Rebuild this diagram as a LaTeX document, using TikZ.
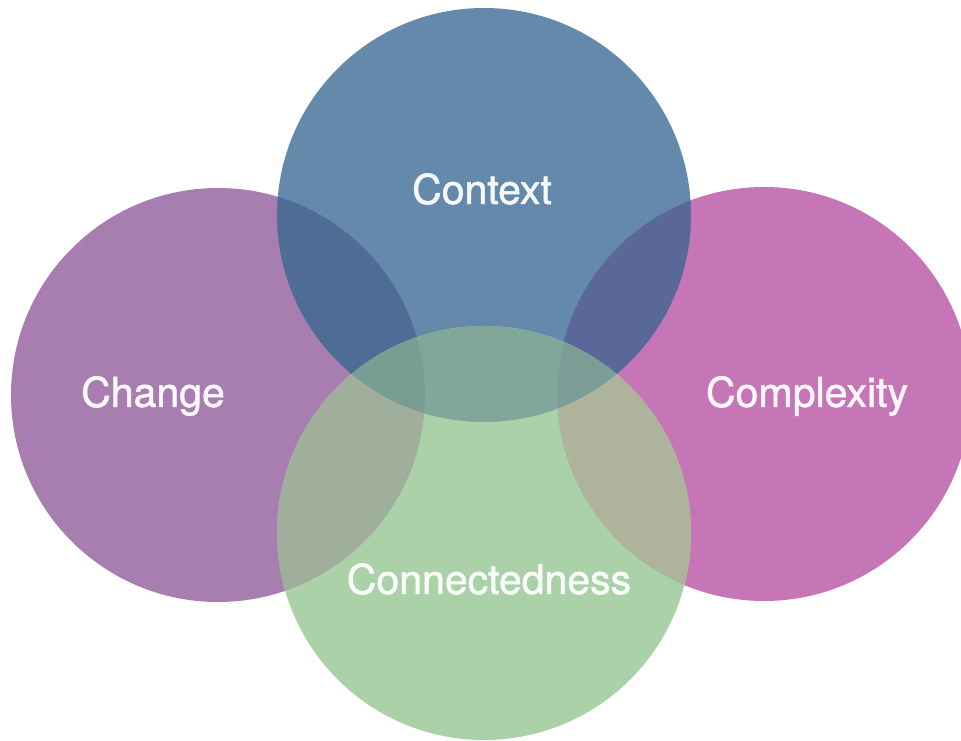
\documentclass[tikz,border=0pt]{standalone}
\usepackage{fontspec}
\setmainfont{TeX Gyre Heros}
\newfontfamily\lblfont[FakeBold=1.3]{TeX Gyre Heros}
\definecolor{cChange}{HTML}{A87DB0}
\definecolor{cComplex}{HTML}{C676B6}
\definecolor{cContext}{HTML}{6489AB}
\definecolor{cConn}{HTML}{ABD1A9}
\definecolor{cChCt}{HTML}{4F6C97}
\definecolor{cCxCt}{HTML}{5A6899}
\definecolor{cCtCn}{HTML}{80A79A}
\definecolor{cChCn}{HTML}{A0AF9B}
\definecolor{cCxCn}{HTML}{AEB39C}
\definecolor{cChCtCn}{HTML}{789E93}
\definecolor{cCxCtCn}{HTML}{7C9D96}
\tikzset{
  lbl/.style={text=white, text opacity=0.94, font=\lblfont\fontsize{41}{41}\selectfont, inner sep=0pt, anchor=center},
}
\begin{document}
\begin{tikzpicture}[x=1pt,y=1pt]
\useasboundingbox (0,0) rectangle (961,740);
\clip (0,0) rectangle (961,740);
\coordinate (pCh) at (218,345);
\coordinate (pCx) at (764,346);
\coordinate (pCt) at (484,525);
\coordinate (pCn) at (484,207);
\def\R{207}
% base circles
\fill[cChange] (pCh) circle (\R);
\fill[cComplex] (pCx) circle (\R);
\fill[cContext] (pCt) circle (\R);
\fill[cConn] (pCn) circle (\R);
% pairwise overlaps
\begin{scope}\clip (pCh) circle (\R); \fill[cChCt] (pCt) circle (\R);\end{scope}
\begin{scope}\clip (pCx) circle (\R); \fill[cCxCt] (pCt) circle (\R);\end{scope}
\begin{scope}\clip (pCt) circle (\R); \fill[cCtCn] (pCn) circle (\R);\end{scope}
\begin{scope}\clip (pCh) circle (\R); \fill[cChCn] (pCn) circle (\R);\end{scope}
\begin{scope}\clip (pCx) circle (\R); \fill[cCxCn] (pCn) circle (\R);\end{scope}
% triple overlaps
\begin{scope}\clip (pCh) circle (\R); \clip (pCt) circle (\R); \fill[cChCtCn] (pCn) circle (\R);\end{scope}
\begin{scope}\clip (pCx) circle (\R); \clip (pCt) circle (\R); \fill[cCxCtCn] (pCn) circle (\R);\end{scope}
% labels
\node[lbl] (tCt) at (482,551) {Context};
\node[lbl] (tCh) at (153,344) {Change};
\node[lbl] (tCx) at (807,344) {Complexity};
\node[lbl] (tCn) at (489,161) {Connectedness};
\end{tikzpicture}
\end{document}
